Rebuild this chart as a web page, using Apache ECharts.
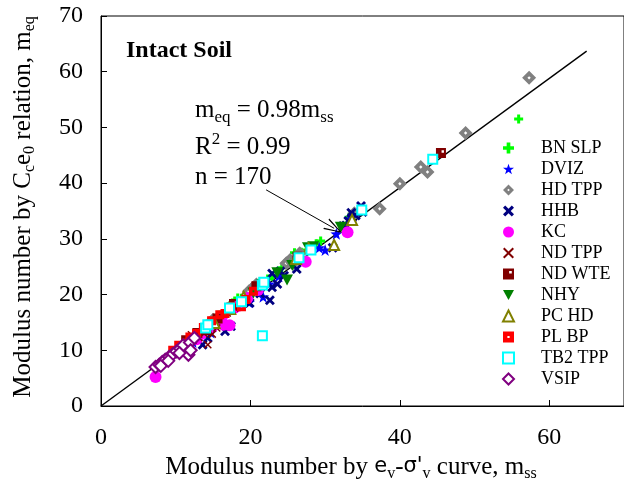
<!DOCTYPE html>
<html><head><meta charset="utf-8">
<script src="https://cdn.jsdelivr.net/npm/echarts@6/dist/echarts.min.js"></script>
<style>html,body{margin:0;padding:0;background:#fff}#c{width:624px;height:493px}</style>
</head><body><div id="c"></div>
<script>
// ---------- data ----------
const seriesNames = ['BN SLP','DVIZ','HD TPP','HHB','KC','ND TPP','ND WTE','NHY','PC HD','PL BP','TB2 TPP','VSIP'];
const bnSlp = [[14.5,15.2],[15.8,16.3],[17.6,18.5],[18.3,19.4],[19.2,19.9],[20.2,21.2],[21.3,22.3],[22.3,22.8],[23.0,23.3],[24.2,24.8],[25.4,26.1],[25.9,27.5],[26.8,27.6],[27.5,28.0],[28.8,29.1],[29.4,29.6],[33.2,33.9],[55.9,51.5]];
const dviz = [[12.3,11.5],[14.7,13.2],[16.0,15.4],[19.8,18.6],[21.7,19.6],[22.5,21.9],[23.8,23.3],[29.2,28.4],[30.0,28.0],[31.5,30.9],[33.3,33.6]];
const hdTpp = [[15.0,15.5],[19.8,20.6],[20.3,21.2],[20.8,21.8],[24.8,25.6],[25.3,26.2],[25.7,25.6],[26.6,27.4],[33.9,34.6],[37.3,35.4],[40.0,39.9],[42.8,42.9],[43.7,42.0],[48.8,49.0],[57.3,58.9]];
const hhb = [[13.6,11.0],[14.3,12.2],[16.6,13.4],[17.4,14.3],[18.8,18.6],[19.9,18.5],[21.3,20.2],[22.6,19.0],[22.9,21.3],[22.9,23.8],[23.6,21.9],[24.5,23.4],[24.0,24.2],[26.2,24.6],[31.0,28.4],[32.4,32.3],[33.1,33.2],[33.6,33.8],[34.1,34.2],[34.8,35.9],[33.5,34.7],[35.0,34.8],[32.8,32.4],[13.0,12.4]];
const kc = [[7.3,5.2],[10.3,9.8],[11.6,11.0],[12.8,12.0],[13.4,12.9],[14.9,14.2],[15.6,15.0],[16.2,16.1],[16.4,14.6],[17.2,14.5],[17.8,17.6],[18.4,18.0],[19.6,19.4],[21.0,20.8],[27.4,25.9],[33.0,31.2]];
const ndTpp = [[10.6,10.8],[11.4,11.6],[12.3,11.8],[13.1,12.3],[14.3,11.0],[14.9,12.9],[15.5,14.0],[12.1,12.8],[16.9,16.7],[17.9,17.6],[13.8,13.0]];
const ndWte = [[11.4,11.8],[12.9,13.1],[14.1,13.6],[15.6,15.7],[17.8,18.3],[20.8,21.5],[26.3,26.8],[45.5,45.4]];
const nhy = [[20.4,20.3],[21.6,21.8],[23.6,23.9],[24.9,22.6],[25.6,25.2],[27.7,28.4],[28.4,28.6],[32.1,32.1]];
const pcHd = [[15.2,14.9],[17.3,17.4],[19.1,19.6],[26.1,26.4],[27.8,28.3],[31.2,28.9],[33.6,33.4]];
const plBp = [[9.6,10.0],[10.4,10.9],[11.1,10.6],[11.9,12.4],[12.8,13.0],[13.7,14.1],[14.8,15.3],[15.9,16.4],[16.6,16.6],[17.4,17.8],[18.8,17.8],[19.4,19.1],[20.4,20.6],[11.5,11.3]];
const tb2Tpp = [[14.0,14.0],[14.3,14.6],[17.2,17.6],[18.8,18.7],[21.6,12.6],[21.6,21.7],[21.8,22.2],[26.5,26.6],[28.1,28.0],[34.9,35.2],[44.4,44.3]];
const vsip = [[7.3,7.0],[7.8,7.4],[8.2,7.9],[8.6,8.3],[9.1,8.8],[9.6,9.3],[10.1,9.8],[10.6,10.3],[11.7,9.2],[11.0,10.9],[11.9,11.4],[12.5,12.2],[8.0,7.2],[9.0,8.1],[10.5,9.5],[12.0,10.0]];
const fitLine = [[0,0],[65,63.7]];
const arrowFrom = [22.1,38.8];
const arrowTo = [31.2,31.9];
const xTickLabels = [0,20,40,60];
const yTickLabels = [0,10,20,30,40,50,60,70];

// ---------- styling ----------
const FONT = 'Liberation Serif';
const P = {
  plus: 'path://M3,0H6V3H9V6H6V9H3V6H0V3H3Z',
  star: 'path://M5,0L6.176,3.382L9.755,3.455L6.902,5.618L7.939,9.045L5,7L2.061,9.045L3.098,5.618L0.245,3.455L3.824,3.382Z',
  dotDiamond: 'path://M5,0L10,5L5,10L0,5ZM5,3.8L3.8,5L5,6.2L6.2,5Z',
  thickX: 'path://M0,2L2,0L5,3L8,0L10,2L7,5L10,8L8,10L5,7L2,10L0,8L3,5Z',
  thinX: 'path://M0,1.3L1.3,0L5,3.7L8.7,0L10,1.3L6.3,5L10,8.7L8.7,10L5,6.3L1.3,10L0,8.7L3.7,5Z',
  sqTopDot: 'path://M0,0L10,0L10,10L0,10ZM5.6,2.2L5.6,4.6L8,4.6L8,2.2Z',
  sqDot: 'path://M0,0L10,0L10,10L0,10ZM4,4L4,6L6,6L6,4Z',
  downTri: 'path://M0,0L10,0L5,9Z'
};
const defs = [
  {d: bnSlp,  sym: P.plus,        size: 9,  color: '#00ff00'},
  {d: dviz,   sym: P.star,        size: 12, color: '#0000ff'},
  {d: hdTpp,  sym: P.dotDiamond,  size: 14, color: '#808080'},
  {d: hhb,    sym: P.thickX,      size: 10, color: '#000080'},
  {d: kc,     sym: 'circle',      size: 12, color: '#ff00ff'},
  {d: ndTpp,  sym: P.thinX,       size: 8,  color: '#800000'},
  {d: ndWte,  sym: P.sqTopDot,    size: 10, color: '#800000'},
  {d: nhy,    sym: P.downTri,     size: [12,11], color: '#008000'},
  {d: pcHd,   sym: 'emptyTriangle', size: 10, color: '#808000'},
  {d: plBp,   sym: P.sqDot,       size: 9,  color: '#ff0000'},
  {d: tb2Tpp, sym: 'emptyRect',   size: 9,  color: '#00ffff'},
  {d: vsip,   sym: 'emptyDiamond', size: 12, color: '#800080'}
];

const series = defs.map((s, i) => ({
  name: seriesNames[i],
  type: 'scatter',
  data: s.d,
  symbol: s.sym,
  symbolSize: s.size,
  itemStyle: {color: s.color, borderWidth: s.sym.indexOf('empty') === 0 ? 1.5 : 0, opacity: 1},
  emphasis: {disabled: true},
  z: 3
}));
series.push({
  name: 'fit',
  type: 'line',
  data: fitLine,
  showSymbol: false,
  symbol: 'none',
  lineStyle: {color: '#000', width: 1.4},
  silent: true,
  z: 2,
  markLine: {
    silent: true,
    symbol: ['none', 'path://M5,0L10,16L8.8,16L5,2.8L1.2,16L0,16Z'],
    symbolSize: [12, 18],
    label: {show: false},
    lineStyle: {color: '#000', width: 1, type: 'solid'},
    data: [[{coord: arrowFrom}, {coord: arrowTo}]]
  }
});

function sub(fs, p) { return {fontFamily: FONT, fontSize: fs, fill: '#000', lineHeight: 30, padding: [p,0,0,0]}; }
function sup(fs, p) { return {fontFamily: FONT, fontSize: fs, fill: '#000', lineHeight: 30, padding: [0,0,p,0]}; }

const chart = echarts.init(document.getElementById('c'), null, {renderer: 'canvas'});
chart.setOption({
  animation: false,
  backgroundColor: '#fff',
  grid: {left: 101, top: 16, width: 525, height: 390, show: true, borderColor: '#000', borderWidth: 1, backgroundColor: 'transparent'},
  xAxis: {
    type: 'value', min: 0, max: 70, interval: 20,
    axisLine: {show: true, lineStyle: {color: '#000', width: 1}},
    axisTick: {show: true, inside: true, length: 6, lineStyle: {color: '#000'}},
    splitLine: {show: false},
    axisLabel: {margin: 20, color: '#000', fontFamily: FONT, fontSize: 24, showMaxLabel: false,
      formatter: v => xTickLabels.indexOf(v) >= 0 ? String(v) : ''}
  },
  yAxis: {
    type: 'value', min: 0, max: 70, interval: 10,
    axisLine: {show: true, lineStyle: {color: '#000', width: 1}},
    axisTick: {show: true, inside: true, length: 6, lineStyle: {color: '#000'}},
    splitLine: {show: false},
    axisLabel: {margin: 18, color: '#000', fontFamily: FONT, fontSize: 24,
      formatter: v => yTickLabels.indexOf(v) >= 0 ? String(v) : ''}
  },
  legend: {
    orient: 'vertical', left: 502, top: 139, padding: 0,
    itemWidth: 11, itemHeight: 11, itemGap: 3,
    data: seriesNames,
    selectedMode: false,
    textStyle: {fontFamily: FONT, fontSize: 18, color: '#000', lineHeight: 18, padding: [0,0,0,22]}
  },
  graphic: [
    {type: 'text', x: 126, y: 51, style: {text: 'Intact Soil', fontFamily: FONT, fontSize: 24, fontWeight: 'bold', fill: '#000', align: 'left', verticalAlign: 'middle'}},
    {type: 'text', x: 195, y: 110, style: {text: 'm{s|eq} = 0.98m{s|ss}', fontFamily: FONT, fontSize: 25, fill: '#000', lineHeight: 30, align: 'left', verticalAlign: 'middle',
      rich: {s: sub(17, 16)}}},
    {type: 'text', x: 195, y: 147, style: {text: 'R{p|2} = 0.99', fontFamily: FONT, fontSize: 25, fill: '#000', lineHeight: 30, align: 'left', verticalAlign: 'middle',
      rich: {p: sup(17, 14)}}},
    {type: 'text', x: 195, y: 177, style: {text: 'n = 170', fontFamily: FONT, fontSize: 25, fill: '#000', lineHeight: 30, align: 'left', verticalAlign: 'middle'}},
    {type: 'text', x: 351, y: 467, style: {text: 'Modulus number by {g|e}{s|v}-{g|σ\'}{s|v} curve, m{s|ss}', fontFamily: FONT, fontSize: 25, fill: '#000', lineHeight: 30, align: 'center', verticalAlign: 'middle',
      rich: {s: sub(16, 14), g: {fontFamily: 'DejaVu Sans', fontSize: 21, fill: '#000', lineHeight: 30}}}},
    {type: 'text', x: 23, y: 207, rotation: Math.PI / 2, style: {text: 'Modulus number by C{s|c}e{s|0} relation, m{s|eq}', fontFamily: FONT, fontSize: 25, fill: '#000', lineHeight: 30, align: 'center', verticalAlign: 'middle',
      rich: {s: sub(16, 14)}}}
  ],
  series: series
});
</script></body></html>
